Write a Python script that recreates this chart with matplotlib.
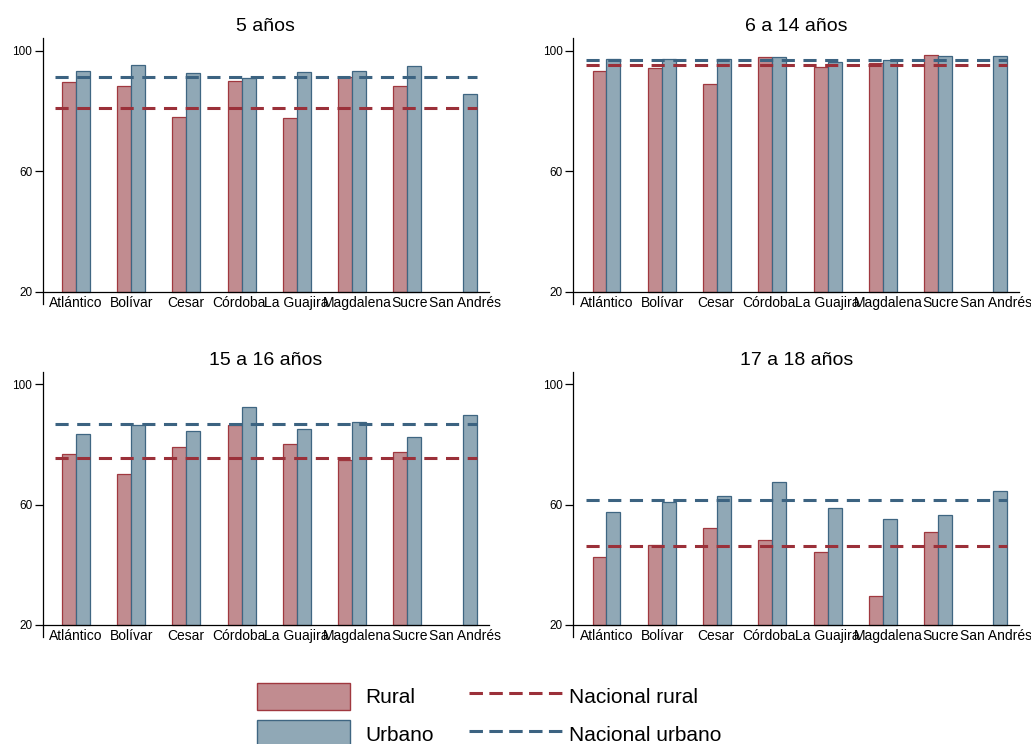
import numpy as np
import matplotlib.pyplot as plt
from matplotlib.patches import Patch
from matplotlib.lines import Line2D

plt.rcParams['font.family'] = ['Liberation Sans', 'DejaVu Sans']

# Datos (porcentaje de asistencia escolar)
departamentos = ['Atlántico', 'Bolívar', 'Cesar', 'Córdoba', 'La Guajira',
                 'Magdalena', 'Sucre', 'San Andrés']
titulos = ['5 años', '6 a 14 años', '15 a 16 años', '17 a 18 años']

rural_5 = [89.5, 88.3, 78.1, 89.8, 77.8, 91.3, 88.3, np.nan]
urbano_5 = [93.4, 95.2, 92.7, 91.0, 92.9, 93.3, 94.9, 85.5]
rural_6_14 = [93.3, 94.2, 88.9, 98.0, 94.7, 95.9, 98.5, np.nan]
urbano_6_14 = [97.1, 97.1, 97.1, 97.8, 96.2, 96.8, 98.2, 98.1]
rural_15_16 = [76.7, 70.1, 79.2, 86.5, 80.3, 74.8, 77.6, np.nan]
urbano_15_16 = [83.4, 86.5, 84.6, 92.4, 85.0, 87.5, 82.6, 89.9]
rural_17_18 = [42.6, 46.5, 52.1, 48.1, 44.3, 29.6, 50.7, np.nan]
urbano_17_18 = [57.5, 60.7, 62.9, 67.5, 58.7, 55.1, 56.5, 64.4]

nacional_rural = [80.9, 95.4, 75.6, 46.3]
nacional_urbano = [91.2, 97.0, 86.7, 61.4]

rurales = [rural_5, rural_6_14, rural_15_16, rural_17_18]
urbanos = [urbano_5, urbano_6_14, urbano_15_16, urbano_17_18]

BASE = 20  # el eje y arranca en 20

# Colores
C_RURAL = '#C18C90'
E_RURAL = '#A0383F'
C_URB = '#90A8B6'
E_URB = '#3F6682'
L_RURAL = '#9B3039'
L_URB = '#3C6381'

# Pequeño corrimiento horizontal de las etiquetas (px / ancho de grupo) para que no se pisen
LABEL_SHIFT = np.array([0, 1, -1, -3, -0.5, 5, 2, 2.5]) / 55.3

fig = plt.figure(figsize=(10.31, 7.44), dpi=100)

# Posiciones de los paneles (fracción de figura)
posiciones = [
    [0.0414, 0.5914, 0.4326, 0.3575],
    [0.5561, 0.5914, 0.4326, 0.3575],
    [0.0414, 0.1442, 0.4326, 0.3562],
    [0.5561, 0.1442, 0.4326, 0.3562],
]

x = np.arange(len(departamentos))
w = 0.253

for i in range(4):
    ax = fig.add_axes(posiciones[i])
    r = np.array(rurales[i]) - BASE
    u = np.array(urbanos[i]) - BASE
    ax.bar(x - w / 2, r, w, bottom=BASE, color=C_RURAL, edgecolor=E_RURAL, linewidth=0.9)
    ax.bar(x + w / 2, u, w, bottom=BASE, color=C_URB, edgecolor=E_URB, linewidth=0.9)

    # Líneas de referencia nacional
    xs = [x[0] - 1.5 * w, x[-1] + w]
    ax.plot(xs, [nacional_urbano[i]] * 2, color=L_URB, lw=2.2, dashes=(4.3, 2.8))
    ax.plot(xs, [nacional_rural[i]] * 2, color=L_RURAL, lw=2.2, dashes=(4.3, 2.8))

    ax.set_xlim(-0.6, 7.47)
    ax.set_ylim(16, 104.2)
    ax.set_yticks([20, 60, 100])
    ax.set_xticks(x + LABEL_SHIFT)
    ax.set_xticklabels(departamentos, fontsize=8.4)
    ax.tick_params(axis='x', length=0, pad=3)
    ax.tick_params(axis='y', length=6, width=0.9, labelsize=8.5, pad=1.5)

    ax.spines['top'].set_visible(False)
    ax.spines['right'].set_visible(False)
    ax.spines['bottom'].set_position(('data', BASE))
    ax.spines['left'].set_linewidth(0.9)
    ax.spines['bottom'].set_linewidth(0.9)
    ax.set_title(titulos[i], fontsize=14, pad=5)

# Leyenda: barras a la izquierda, líneas nacionales a la derecha
barras = [
    Patch(facecolor=C_RURAL, edgecolor=E_RURAL, label='Rural'),
    Patch(facecolor=C_URB, edgecolor=E_URB, label='Urbano'),
]
lineas = [
    Line2D([], [], color=L_RURAL, lw=2.2, dashes=(4.4, 2.1), label='Nacional rural'),
    Line2D([], [], color=L_URB, lw=2.2, dashes=(4.4, 2.1), label='Nacional urbano'),
]
opts = dict(loc='upper left', frameon=False, fontsize=15, handlelength=4.47,
            handleheight=1.65, labelspacing=0.5, borderpad=0, borderaxespad=0)
fig.legend(handles=barras, bbox_to_anchor=(0.249, 0.0826),
           handletextpad=0.73, **opts)
fig.legend(handles=lineas, bbox_to_anchor=(0.4549, 0.0826),
           handletextpad=0.33, **opts)

fig.savefig('out.png', dpi=100)
